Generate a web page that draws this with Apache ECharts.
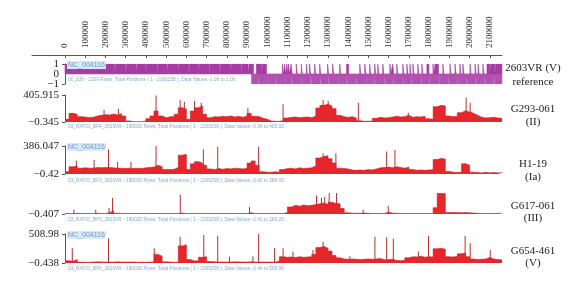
<!DOCTYPE html>
<html>
<head>
<meta charset="utf-8">
<script src="https://cdn.jsdelivr.net/npm/echarts@6/dist/echarts.min.js"></script>
<style>
  html, body { margin: 0; padding: 0; background: #fff; }
  #chart { width: 587px; height: 281px; }
</style>
</head>
<body>
<div id="chart"></div>
<script>
// genome coordinates
const genomeLength = 2160258
const binSize = 20000
const rulerTicks = [0, 100000, 200000, 300000, 400000, 500000, 600000, 700000, 800000, 900000, 1000000,
  1100000, 1200000, 1300000, 1400000, 1500000, 1600000, 1700000, 1800000, 1900000, 2000000, 2100000]

// track 1 (2603VR reference): +1 / -1 blocks, in kb
const refTop = [[0,40],[44,92],[95,150],[153,198],[202,245],[249,300],[304,352],[356,398],[402,455],[459,505],
  [509,560],[564,612],[616,660],[664,712],[716,765],[769,818],[822,870],[874,905],[910,932],[946,972],[976,996],
  [1075,1080],[1086,1090],[1097,1101],[1105,1110],[1118,1123],[1143,1148],[1168,1173],[1193,1198],[1209,1214],
  [1234,1239],[1259,1264],[1298,1303],[1323,1328],[1358,1363],[1392,1402],[1457,1462],[1482,1487],[1506,1511],
  [1531,1536],[1546,1551],[1571,1576],[1606,1611],[1620,1625],[1640,1645],[1670,1675],[1690,1695],[1705,1710],
  [1720,1725],[1744,1749],[1764,1769],[1789,1799],[1819,1824],[1829,1846],[1868,1873],[1903,1908],[1928,1933],
  [1952,1957],[1967,1972],[2002,2007],[2027,2032],[2042,2047],[2066,2071],[2086,2100],[2104,2125],[2129,2160]]
const refBottom = [[922,955],[959,1001],[1004,1040],[1044,1090],[1093,1120],[1124,1170],[1173,1215],[1219,1262],
  [1266,1300],[1304,1350],[1353,1392],[1396,1440],[1444,1490],[1493,1530],[1534,1580],[1584,1622],[1626,1670],
  [1673,1712],[1716,1760],[1764,1800],[1804,1850],[1853,1895],[1899,1940],[1944,1985],[1989,2030],[2034,2075],
  [2079,2120],[2124,2160]]

// ratio tracks, 20 kb bins
const g293Bins = [40,130,115,80,75,65,70,90,100,110, 105,120,105,125,90,15,5,5,5,15,
  50,90,165,90,65,80,80,115,215,190, 40,165,215,240,115,65,80,75,85,80,
  90,75,85,70,90,130,85,80,55,40, 15,10,10,20,60,70,75,65,70,75,
  65,90,210,250,265,240,200,100,80,70, 80,60,20,10,10,15,55,70,60,65,
  75,85,75,80,100,70,80,75,85,50, 40,230,250,240,90,80,85,140,170,150,
  130,100,70,60,65,70,60,55]
const g293Spikes = [[193,180],[264,200],[450,400],[569,330],[590,300],[640,315],[673,290],[904,215],
  [1078,265],[1276,330],[1301,315],[1450,290],[1697,140],[1983,365],[2003,290]]

const h119Bins = [30,100,110,80,85,80,80,90,85,90, 90,85,80,80,75,80,75,80,75,85,
  90,95,120,100,60,60,65,90,260,270, 60,140,170,150,120,70,60,75,65,75,
  70,80,75,70,80,150,180,120,30,25, 25,30,25,60,75,80,70,85,75,80,
  85,110,220,240,250,210,150,80,75,70, 55,50,55,50,60,55,70,85,90,95,
  85,100,90,80,95,60,50,55,50,55, 60,200,215,205,35,25,20,25,140,120,
  25,20,15,25,15,20,15,20]
const h119Spikes = [[56,185],[144,195],[215,340],[260,170],[326,170],[450,386],[684,340],[755,375],
  [957,375],[1276,285],[1339,285],[1590,310],[1631,330],[1978,145]]

const g617Bins = [5,5,8,5,5,6,5,8,5,5, 15,40,10,6,5,5,5,5,5,5,
  5,5,5,5,5,5,5,6,12,5, 5,5,5,5,5,5,5,5,5,5,
  5,5,5,5,5,15,5,5,5,5, 5,5,5,5,20,90,110,100,115,105,
  110,120,130,140,120,150,135,130,70,15, 10,8,8,12,8,5,5,6,5,25,
  10,8,5,6,5,5,5,5,5,5, 5,80,265,260,20,18,20,15,18,15,
  12,8,6,5,5,5,8,10]
const g617Spikes = [[44,55],[152,55],[218,75],[235,205],[570,247],[912,90],[1243,235],[1268,205],
  [1284,217],[1306,268],[1342,268],[1474,55],[1598,105]]

const g654Bins = [40,30,60,15,12,12,15,20,18,15, 15,15,20,15,15,15,18,12,15,12,
  15,18,150,120,20,15,12,15,300,320, 60,35,40,100,110,25,20,15,18,15,
  15,20,18,15,15,20,15,15,18,15, 15,12,40,110,100,105,95,110,100,105,
  110,150,270,290,260,210,130,90,70,65, 70,65,60,65,70,65,70,80,55,60,
  65,45,40,50,90,110,105,120,100,110, 105,250,260,240,110,105,115,160,175,110,
  70,60,65,70,95,70,60,55]
const g654Spikes = [[36,257],[215,433],[441,257],[569,460],[686,490],[755,475],[813,110],[929,120],
  [957,509],[1036,257],[1078,257],[1127,200],[1226,228],[1276,375],[1408,120],[1532,460],[1590,450],
  [1623,430],[1747,200],[1797,475],[1978,475],[2003,345],[2102,228]]

// axis ranges and tick labels
const trackMin = [-1, -0.345, -0.42, -0.407, -0.438]
const trackMax = [1, 405.915, 386.047, 268.28, 508.98]
const trackTickValues = [[-1, 1], [-0.345, 405.915], [-0.42, 386.047], [-0.407], [-0.438, 508.98]]
const trackTickLabels = [['−1', '1'], ['−0.345', '405.915'], ['−0.42', '386.047'], ['−0.407'], ['−0.438', '508.98']]
const refMidValues = [0]
const trackNames = [['2603VR (V)', 'reference'], ['G293-061', '(II)'], ['H1-19', '(Ia)'], ['G617-061', '(III)'], ['G654-461', '(V)']]
const captions = [
  '00_039 - 2109 Rows, Total Positions ( 1 - 2160258 ), Data Values -1.00 to 1.00',
  '03_RATIO_BF4_2603VR - 180020 Rows, Total Positions ( 1 - 2160258 ), Data Values -0.34 to 405.92',
  '03_RATIO_BF3_2603VR - 180020 Rows, Total Positions ( 1 - 2160258 ), Data Values -0.42 to 386.05',
  '03_RATIO_BF5_2603VR - 180020 Rows, Total Positions ( 1 - 2160258 ), Data Values -0.41 to 268.28',
  '03_RATIO_BF6_2603VR - 180020 Rows, Total Positions ( 1 - 2160258 ), Data Values -0.44 to 508.98'
]

// layout (px)
const gridTops = [64, 95, 146, 193, 234]
const gridHeights = [20, 27, 28, 21, 29]
const plotLeft = 65, plotRight = 85
const nameY = [[68, 82], [109, 122], [164, 177], [206, 218], [251, 263]]
const captionY = [80, 127, 181, 220, 269]
const ncTracks = [0, 2, 4]
const serif = 'Liberation Serif'

const chart = echarts.init(document.getElementById('chart'))

const stepData = (bins) => {
  const d = bins.map((v, i) => [i * binSize, v])
  d.push([genomeLength, bins[bins.length - 1]])
  return d
}
const rangeData = (ranges, level) => {
  const d = [[0, 0]]
  ranges.forEach(r => { d.push([r[0] * 1000, level]); d.push([r[1] * 1000, 0]) })
  d.push([genomeLength, 0])
  return d
}
const spikeData = (sp) => sp.map(s => [s[0] * 1000, s[1]])

const grids = gridTops.map((t, i) => ({ left: plotLeft, right: plotRight, top: t, height: gridHeights[i] }))
grids.push({ left: 32, right: plotRight, top: 54, height: 1 })

const xAxes = gridTops.map((t, i) => ({
  type: 'value', gridIndex: i, min: 0, max: genomeLength, show: false
}))
// ruler: 0 sits at the plot's left edge, line extends further left
const rulerMin = -33 / (587 - plotLeft - plotRight) * genomeLength
xAxes.push({
  type: 'value', gridIndex: 5, position: 'top', min: rulerMin, max: genomeLength,
  splitLine: { show: false },
  axisLine: { show: true, lineStyle: { color: '#555', width: 1 } },
  axisTick: { show: true, inside: true, length: 3, customValues: rulerTicks, lineStyle: { color: '#555' } },
  axisLabel: {
    customValues: rulerTicks, rotate: 90, fontSize: 9, fontFamily: serif, color: '#333', margin: 6,
    hideOverlap: false, formatter: (v) => String(Math.round(v))
  }
})

const labelFor = (vals, labels) => (v) => {
  let best = 0
  vals.forEach((x, k) => { if (Math.abs(x - v) < Math.abs(vals[best] - v)) best = k })
  return labels[best]
}

const yAxes = gridTops.map((t, i) => ({
  type: 'value', gridIndex: i, position: 'left', min: trackMin[i], max: trackMax[i],
  splitLine: { show: false },
  axisLine: { show: i !== 3, lineStyle: { color: '#555', width: 1 } },
  axisTick: { show: true, length: 3, customValues: trackTickValues[i], lineStyle: { color: '#555' } },
  axisLabel: {
    customValues: trackTickValues[i], fontSize: 11, fontFamily: serif, color: '#222', margin: 6,
    showMinLabel: true, showMaxLabel: true, hideOverlap: false,
    formatter: labelFor(trackTickValues[i], trackTickLabels[i])
  }
}))
yAxes.push({ type: 'value', gridIndex: 5, show: false })
// middle "0" label of the reference track on its own axis
yAxes.push({
  type: 'value', gridIndex: 0, position: 'left', offset: 0, min: -1, max: 1,
  splitLine: { show: false }, axisLine: { show: false }, axisTick: { show: false },
  axisLabel: {
    customValues: refMidValues, fontSize: 11, fontFamily: serif, color: '#222', margin: 6,
    formatter: () => '0'
  }
})

const areaSeries = (idx, data, color, lineColor) => ({
  type: 'line', xAxisIndex: idx, yAxisIndex: idx, step: 'end', symbol: 'none', silent: true,
  data: data, lineStyle: { color: lineColor, width: 0.6 }, areaStyle: { color: color, opacity: 1 }
})
const spikeSeries = (idx, data) => ({
  type: 'bar', xAxisIndex: idx, yAxisIndex: idx, barWidth: 1, silent: true,
  data: data, itemStyle: { color: '#b8302f' }
})

const series = [
  areaSeries(0, rangeData(refTop, 1), '#a63ba3', '#a63ba3'),
  areaSeries(0, rangeData(refBottom, -1), '#b252b0', '#b252b0'),
  areaSeries(1, stepData(g293Bins), '#e5262a', '#c91f24'), spikeSeries(1, spikeData(g293Spikes)),
  areaSeries(2, stepData(h119Bins), '#e5262a', '#c91f24'), spikeSeries(2, spikeData(h119Spikes)),
  areaSeries(3, stepData(g617Bins), '#e5262a', '#c91f24'), spikeSeries(3, spikeData(g617Spikes)),
  areaSeries(4, stepData(g654Bins), '#e5262a', '#c91f24'), spikeSeries(4, spikeData(g654Spikes))
]

const graphics = []
trackNames.forEach((n, i) => {
  n.forEach((s, k) => graphics.push({
    type: 'text', x: 533, y: nameY[i][k],
    style: { text: s, font: '11px "Liberation Serif"', fill: '#222', textAlign: 'center', textVerticalAlign: 'middle' }
  }))
})
captions.forEach((c, i) => graphics.push({
  type: 'text', x: 68, y: captionY[i], z: 10,
  style: { text: c, font: '4.8px "Liberation Sans"', fill: '#84aad6', textVerticalAlign: 'middle' }
}))
ncTracks.forEach(i => graphics.push({
  type: 'text', x: 67, y: gridTops[i] + 1, z: 10,
  style: {
    text: 'NC_004116', font: '7px "Liberation Sans"', fill: '#6f9bcb', textVerticalAlign: 'middle',
    backgroundColor: '#dbe8f6', padding: [1, 1, 0, 1]
  }
}))

chart.setOption({
  animation: false,
  backgroundColor: '#fff',
  grid: grids,
  xAxis: xAxes,
  yAxis: yAxes,
  series: series,
  graphic: graphics
})
window.addEventListener('resize', () => chart.resize())
</script>
</body>
</html>
